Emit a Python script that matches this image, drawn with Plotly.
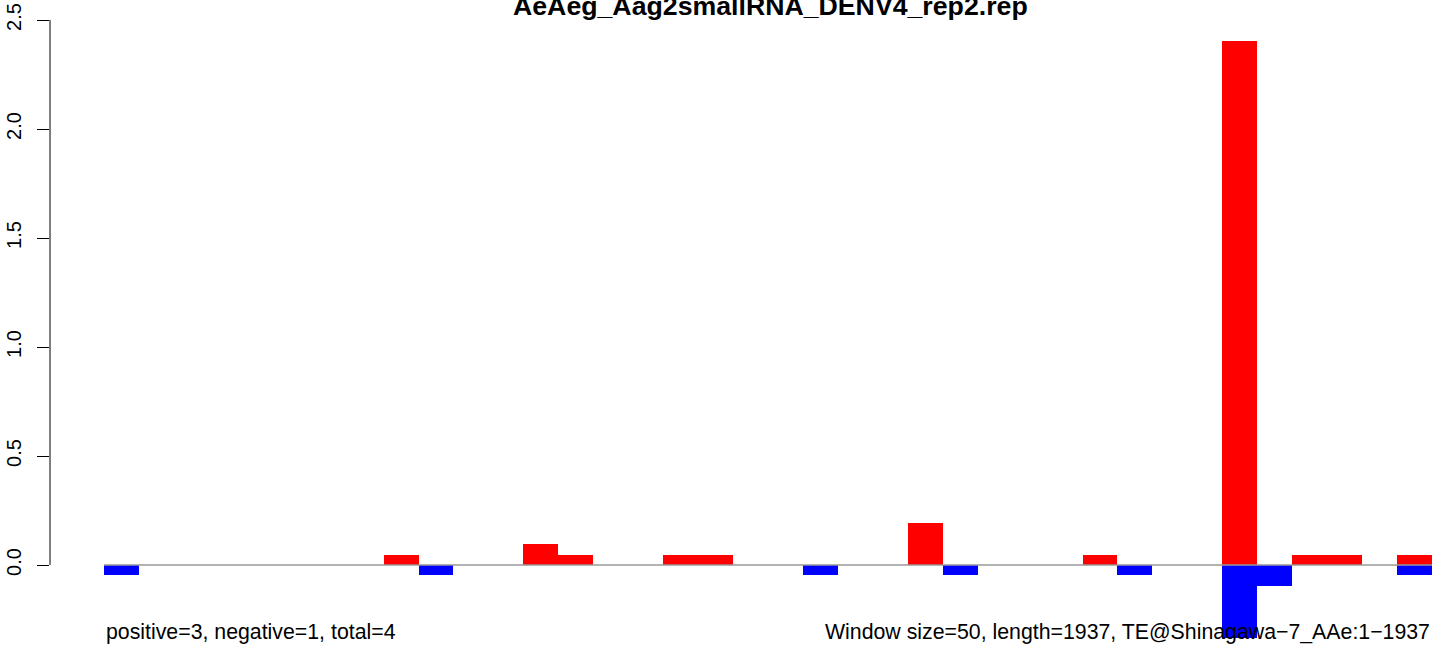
import plotly.graph_objects as go

# ---- data ----
title_text = "AeAeg_Aag2smallRNA_DENV4_rep2.rep"
left_note = "positive=3, negative=1, total=4"
right_note = "Window size=50, length=1937, TE@Shinagawa\u22127_AAe:1\u22121937"

bins = list(range(38))
pos_values = [0, 0, 0, 0, 0, 0, 0, 0, 0.048, 0,
              0, 0, 0.096, 0.048, 0, 0, 0.048, 0.048, 0, 0,
              0, 0, 0, 0.192, 0, 0, 0, 0, 0.048, 0,
              0, 0, 2.404, 0, 0.048, 0.048, 0, 0.048]
neg_values = [-0.048, 0, 0, 0, 0, 0, 0, 0, 0, -0.048,
              0, 0, 0, 0, 0, 0, 0, 0, 0, 0,
              -0.048, 0, 0, 0, -0.048, 0, 0, 0, 0, -0.048,
              0, 0, -0.336, -0.096, 0, 0, 0, -0.048]
y_ticks = [0, 0.5, 1.0, 1.5, 2.0, 2.5]
y_ticklabels = ["0.0", "0.5", "1.0", "1.5", "2.0", "2.5"]

# ---- layout geometry (pixels) ----
W, H = 1444, 647
ml, mr, mt, mb = 50, 10, 20, 2
pw = W - ml - mr
ph = H - mt - mb
bar_px = 34.947
x0 = -0.5 - (104 - ml) / bar_px
x1 = x0 + pw / bar_px
ypx = 218.0
y_top = 2.5
y_bot = y_top - ph / ypx


def px_to_paper_x(px):
    return (px - ml) / pw


def px_to_paper_y(py):
    return (H - mb - py) / ph


fig = go.Figure()
fig.add_trace(go.Bar(x=bins, y=pos_values, width=1.0, marker=dict(color="#FF0000", line=dict(width=0)),
                     showlegend=False, hoverinfo="skip"))
fig.add_trace(go.Bar(x=bins, y=neg_values, width=1.0, marker=dict(color="#0000FF", line=dict(width=0)),
                     showlegend=False, hoverinfo="skip"))

# zero line
fig.add_shape(type="line", xref="x", yref="y", x0=-0.5, x1=37.5, y0=0, y1=0,
              line=dict(color="#999999", width=1.5), layer="above")
# y axis line (0 to 2.5)
fig.add_shape(type="line", xref="paper", yref="y", x0=0, x1=0, y0=0, y1=2.5,
              line=dict(color="black", width=1), layer="above")

font_family = "Liberation Sans, Arial, Helvetica, sans-serif"

fig.add_annotation(text="<b>" + title_text + "</b>", xref="paper", yref="paper",
                   x=px_to_paper_x(770), y=px_to_paper_y(6), xanchor="center", yanchor="middle",
                   showarrow=False, font=dict(family=font_family, size=26.7, color="black"))
fig.add_annotation(text=left_note, xref="paper", yref="paper",
                   x=px_to_paper_x(104), y=px_to_paper_y(632), xanchor="left", yanchor="middle",
                   showarrow=False, font=dict(family=font_family, size=21.3, color="black"))
fig.add_annotation(text=right_note, xref="paper", yref="paper",
                   x=px_to_paper_x(1432), y=px_to_paper_y(632), xanchor="right", yanchor="middle",
                   showarrow=False, font=dict(family=font_family, size=21.3, color="black"))

fig.update_layout(
    width=W, height=H,
    margin=dict(l=ml, r=mr, t=mt, b=mb, pad=0, autoexpand=False),
    paper_bgcolor="white", plot_bgcolor="white",
    barmode="overlay", bargap=0,
    showlegend=False,
    font=dict(family=font_family, size=16, color="black"),
    xaxis=dict(range=[x0, x1], showgrid=False, zeroline=False, showline=False,
               showticklabels=False, ticks="", automargin=False),
    yaxis=dict(range=[y_bot, y_top], showgrid=False, zeroline=False, showline=False,
               tickmode="array", tickvals=y_ticks, ticktext=y_ticklabels,
               ticks="outside", ticklen=12, tickwidth=1, tickcolor="black",
               tickangle=-90, tickfont=dict(family=font_family, size=20, color="black"),
               ticklabelstandoff=8, automargin=False),
)

fig.write_html("out.html",
               config={"displayModeBar": False, "staticPlot": True},
               post_script="document.body.style.margin='0';document.body.style.padding='0';"
                           "document.documentElement.style.overflow='hidden';")
